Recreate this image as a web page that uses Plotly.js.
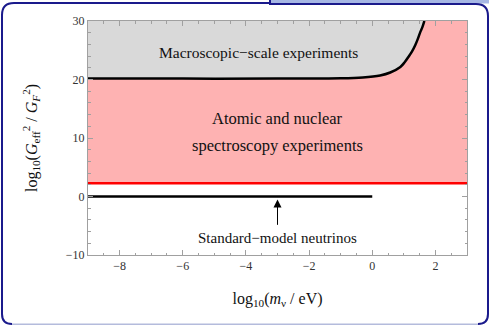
<!DOCTYPE html>
<html>
<head>
<meta charset="utf-8">
<script src="https://cdn.plot.ly/plotly-3.0.1.min.js"></script>
<style>html,body{margin:0;padding:0;background:#fff;}#chart{width:489px;height:326px;}</style>
</head>
<body>
<div id="chart"></div>
<script>
// ---- data ----
var xRange = [-9, 3];
var yRange = [-10, 30];
// upper bound from macroscopic-scale experiments (black curve)
var macroX = [-9, -6, -3, -1, -0.3, 0.25, 0.57, 0.89, 1.02, 1.15, 1.26, 1.36, 1.44, 1.52, 1.59, 1.65];
var macroY = [20.15, 20.15, 20.15, 20.2, 20.35, 20.7, 21.2, 22.15, 22.9, 23.9, 24.8, 25.85, 26.9, 28.1, 29.0, 30.0];
// bound from atomic & nuclear spectroscopy (red line)
var spectroX = [-9, 3];
var spectroY = [2.25, 2.25];
// standard-model neutrinos (black line at 0)
var smX = [-9, 0];
var smY = [0, 0];
var topY = 30;
var xTickVals = [-8, -6, -4, -2, 0, 2];
var yTickVals = [-10, 0, 10, 20, 30];
var labels = {
  macro: "Macroscopic\u2212scale experiments",
  atomic1: "Atomic and nuclear",
  atomic2: "spectroscopy experiments",
  sm: "Standard\u2212model neutrinos"
};
var labelPos = {macro: [-3.6, 24.6], atomic1: [-3.0, 13.3], atomic2: [-3.0, 8.8], sm: [-3.0, -7.1]};
var arrowFrom = [-3, -5.1], arrowTo = [-3, -0.5];

var serif = "Liberation Serif, Times New Roman, serif";

var traces = [
  {x: spectroX, y: [topY, topY], mode: 'lines', line: {width: 0, color: 'rgba(0,0,0,0)'}, hoverinfo: 'skip'},
  {x: spectroX, y: spectroY, mode: 'lines', fill: 'tonexty', fillcolor: '#feb2b2', line: {color: '#ff0000', width: 2.5}},
  {x: [macroX[0], macroX[macroX.length - 1]], y: [topY, topY], mode: 'lines', line: {width: 0, color: 'rgba(0,0,0,0)'}},
  {x: macroX, y: macroY, mode: 'lines', fill: 'tonexty', fillcolor: '#d9d9d9', line: {color: '#000', width: 2.5, shape: 'spline', smoothing: 1}},
  {x: smX, y: smY, mode: 'lines', line: {color: '#000', width: 2.5}}
];

// frame helper: pixel -> paper
var L = 88, T = 21, W = 379, H = 234;
function px(x) { return ((x - L) / W).toFixed(4); }
function py(y) { return ((T + H - y) / H).toFixed(4); }
var navy = '#1a1a8c';
var shapes = [
  {type: 'rect', xref: 'paper', yref: 'paper', x0: px(270), x1: px(489), y0: py(3.5), y1: py(0), fillcolor: '#a6b7e4', line: {width: 0}, layer: 'above'},
  {type: 'path', xref: 'paper', yref: 'paper', layer: 'above', line: {color: navy, width: 2},
   path: 'M' + px(2) + ',' + py(314) + ' L' + px(2) + ',' + py(15) + ' Q' + px(2) + ',' + py(3) + ' ' + px(14) + ',' + py(3) + ' L' + px(270) + ',' + py(3)},
  {type: 'path', xref: 'paper', yref: 'paper', layer: 'above', line: {color: navy, width: 2},
   path: 'M' + px(270) + ',' + py(0) + ' L' + px(270) + ',' + py(4) + ' L' + px(476) + ',' + py(4) + ' Q' + px(488) + ',' + py(4) + ' ' + px(488) + ',' + py(16) + ' L' + px(488) + ',' + py(314) + ' Q' + px(488) + ',' + py(324) + ' ' + px(478) + ',' + py(324)},
  {type: 'path', xref: 'paper', yref: 'paper', layer: 'above', line: {color: navy, width: 2},
   path: 'M' + px(2) + ',' + py(314) + ' Q' + px(2) + ',' + py(324) + ' ' + px(12) + ',' + py(324)},
  {type: 'line', xref: 'paper', yref: 'paper', layer: 'above', line: {color: '#b4bbdc', width: 1.5},
   x0: px(12), x1: px(478), y0: py(324.2), y1: py(324.2)}
];

function ann(key, size) {
  return {x: labelPos[key][0], y: labelPos[key][1], xref: 'x', yref: 'y', text: labels[key], showarrow: false,
          font: {family: serif, size: size, color: '#111'}};
}
var annotations = [
  ann('macro', 15.5), ann('atomic1', 16.5), ann('atomic2', 16.5), ann('sm', 15),
  {x: arrowTo[0], y: arrowTo[1], ax: arrowFrom[0], ay: arrowFrom[1], xref: 'x', yref: 'y', axref: 'x', ayref: 'y',
   text: '', showarrow: true, arrowhead: 2, arrowsize: 1.6, arrowwidth: 1, arrowcolor: '#000', standoff: 0, startstandoff: 0}
];

var axisCommon = {
  showgrid: false, zeroline: false, showline: true, linecolor: '#a0a0a0', linewidth: 1, mirror: 'ticks',
  ticks: 'inside', ticklen: 5, tickcolor: '#a0a0a0', tickwidth: 1,
  tickfont: {family: serif, size: 12, color: '#333'}
};
var layout = {
  width: 489, height: 326,
  font: {family: serif},
  margin: {l: L, r: 489 - L - W, t: T, b: 326 - T - H, pad: 0},
  paper_bgcolor: '#fff', plot_bgcolor: '#fff', showlegend: false,
  xaxis: Object.assign({}, axisCommon, {range: xRange, tickvals: xTickVals,
    minor: {dtick: 0.5, ticks: 'inside', ticklen: 2.5, tickcolor: '#a0a0a0'},
    title: {text: 'log<sub>10</sub>(<i>m</i><sub>ν</sub> / eV)', font: {family: serif, size: 16, color: '#111'}, standoff: 20}}),
  yaxis: Object.assign({}, axisCommon, {range: yRange, tickvals: yTickVals,
    minor: {dtick: 2, ticks: 'inside', ticklen: 2.5, tickcolor: '#a0a0a0'},
    title: {text: 'log<sub>10</sub>(<i>G</i><sub>eff</sub><sup>2</sup> / <i>G</i><sub><i>F</i></sub><sup>2</sup>)', font: {family: serif, size: 16, color: '#111'}, standoff: 24}}),
  shapes: shapes,
  annotations: annotations
};
Plotly.newPlot('chart', traces, layout, {staticPlot: true, displayModeBar: false});
</script>
</body>
</html>
